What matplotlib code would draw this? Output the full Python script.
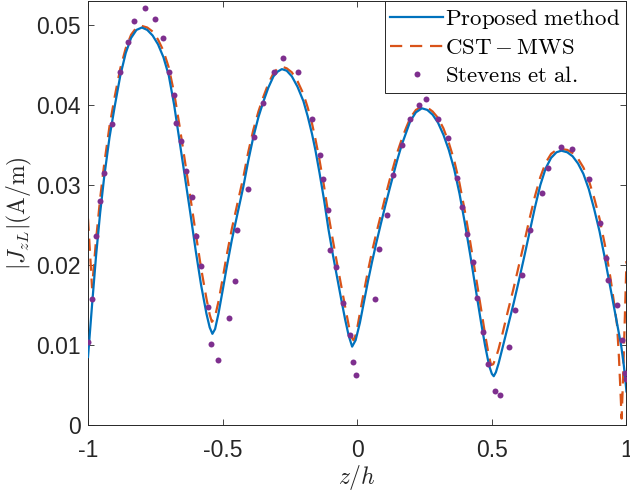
import matplotlib
matplotlib.use('Agg')
import matplotlib.pyplot as plt

# Proposed method (blue solid)
z_prop = [-1.000, -0.985, -0.970, -0.955, -0.940, -0.920, -0.900, -0.880, -0.860, -0.840,
          -0.820, -0.800, -0.780, -0.760, -0.740, -0.720, -0.700, -0.680, -0.660, -0.640,
          -0.620, -0.600, -0.580, -0.560, -0.548, -0.538, -0.528, -0.515, -0.500, -0.485,
          -0.466, -0.445, -0.423, -0.405, -0.386, -0.367, -0.348, -0.330, -0.311, -0.295,
          -0.280, -0.262, -0.243, -0.222, -0.200, -0.184, -0.168, -0.155, -0.140, -0.123,
          -0.107, -0.090, -0.075, -0.060, -0.045, -0.032, -0.019, -0.006, 0.010, 0.025,
          0.040, 0.055, 0.071, 0.088, 0.104, 0.120, 0.135, 0.150, 0.166, 0.182,
          0.197, 0.218, 0.240, 0.260, 0.280, 0.300, 0.320, 0.340, 0.360, 0.380,
          0.400, 0.420, 0.440, 0.460, 0.475, 0.490, 0.500, 0.507, 0.515, 0.525,
          0.540, 0.560, 0.580, 0.600, 0.620, 0.640, 0.660, 0.680, 0.700, 0.720,
          0.740, 0.758, 0.780, 0.800, 0.820, 0.840, 0.860, 0.880, 0.900, 0.920,
          0.940, 0.960, 0.980, 0.990, 1.000]
j_prop = [0.0085, 0.0150, 0.0212, 0.0265, 0.0310, 0.0360, 0.0400, 0.0437, 0.0465, 0.0484,
          0.0494, 0.0497, 0.0494, 0.0487, 0.0476, 0.0460, 0.0437, 0.0400, 0.0355, 0.0310,
          0.0265, 0.0218, 0.0175, 0.0139, 0.0122, 0.0114, 0.0120, 0.0140, 0.0168, 0.0197,
          0.0231, 0.0264, 0.0298, 0.0330, 0.0360, 0.0385, 0.0405, 0.0422, 0.0436, 0.0442,
          0.0445, 0.0443, 0.0436, 0.0423, 0.0405, 0.0386, 0.0364, 0.0343, 0.0315, 0.0281,
          0.0245, 0.0212, 0.0185, 0.0158, 0.0132, 0.0112, 0.0098, 0.0106, 0.0128, 0.0154,
          0.0180, 0.0204, 0.0228, 0.0252, 0.0274, 0.0295, 0.0314, 0.0333, 0.0351, 0.0366,
          0.0380, 0.0391, 0.0396, 0.0394, 0.0388, 0.0378, 0.0363, 0.0344, 0.0320, 0.0289,
          0.0252, 0.0212, 0.0170, 0.0128, 0.0099, 0.0074, 0.0064, 0.0061, 0.0066, 0.0077,
          0.0097, 0.0124, 0.0151, 0.0180, 0.0210, 0.0241, 0.0272, 0.0300, 0.0321, 0.0334,
          0.0341, 0.0343, 0.0341, 0.0336, 0.0327, 0.0314, 0.0295, 0.0270, 0.0242, 0.0208,
          0.0172, 0.0136, 0.0100, 0.0075, 0.0042]

# CST-MWS (orange dashed)
z_cst = [-1.000, -0.992, -0.985, -0.978, -0.970, -0.955, -0.940, -0.920, -0.900, -0.880,
         -0.860, -0.840, -0.820, -0.800, -0.780, -0.760, -0.740, -0.720, -0.700, -0.680,
         -0.660, -0.640, -0.620, -0.600, -0.580, -0.560, -0.548, -0.540, -0.530, -0.515,
         -0.500, -0.485, -0.466, -0.445, -0.423, -0.405, -0.386, -0.367, -0.348, -0.330,
         -0.311, -0.295, -0.280, -0.262, -0.243, -0.222, -0.200, -0.184, -0.168, -0.155,
         -0.140, -0.123, -0.107, -0.090, -0.075, -0.060, -0.045, -0.032, -0.022, -0.014,
         -0.004, 0.010, 0.025, 0.040, 0.055, 0.071, 0.088, 0.104, 0.120, 0.135,
         0.150, 0.166, 0.182, 0.197, 0.218, 0.240, 0.260, 0.280, 0.300, 0.320,
         0.340, 0.360, 0.380, 0.400, 0.420, 0.440, 0.460, 0.475, 0.487, 0.497,
         0.505, 0.515, 0.525, 0.540, 0.560, 0.580, 0.600, 0.620, 0.640, 0.660,
         0.680, 0.700, 0.720, 0.740, 0.758, 0.780, 0.800, 0.820, 0.840, 0.860,
         0.880, 0.900, 0.920, 0.940, 0.955, 0.965, 0.972, 0.978, 0.982, 0.988,
         0.994, 1.000]
j_cst = [0.0258, 0.0212, 0.0172, 0.0200, 0.0232, 0.0283, 0.0326, 0.0374, 0.0412, 0.0446,
         0.0471, 0.0488, 0.0497, 0.0499, 0.0497, 0.0492, 0.0482, 0.0468, 0.0447, 0.0415,
         0.0374, 0.0330, 0.0285, 0.0240, 0.0196, 0.0158, 0.0138, 0.0129, 0.0133, 0.0155,
         0.0183, 0.0212, 0.0245, 0.0277, 0.0310, 0.0341, 0.0369, 0.0392, 0.0411, 0.0427,
         0.0440, 0.0446, 0.0448, 0.0446, 0.0441, 0.0430, 0.0414, 0.0397, 0.0377, 0.0357,
         0.0331, 0.0298, 0.0263, 0.0230, 0.0202, 0.0175, 0.0148, 0.0125, 0.0110, 0.0106,
         0.0114, 0.0140, 0.0167, 0.0193, 0.0217, 0.0240, 0.0263, 0.0285, 0.0306, 0.0324,
         0.0342, 0.0358, 0.0372, 0.0384, 0.0394, 0.0398, 0.0397, 0.0392, 0.0384, 0.0371,
         0.0353, 0.0331, 0.0302, 0.0267, 0.0228, 0.0187, 0.0145, 0.0113, 0.0090, 0.0075,
         0.0076, 0.0084, 0.0095, 0.0115, 0.0143, 0.0170, 0.0199, 0.0228, 0.0258, 0.0286,
         0.0310, 0.0328, 0.0339, 0.0344, 0.0345, 0.0344, 0.0340, 0.0333, 0.0322, 0.0306,
         0.0284, 0.0258, 0.0225, 0.0185, 0.0150, 0.0125, 0.0085, 0.0040, 0.0008, 0.0065,
         0.0135, 0.0205]

# Stevens et al. (purple dots)
z_ste = [-1.000, -0.986, -0.971, -0.954, -0.939, -0.911, -0.880, -0.852, -0.828, -0.787,
         -0.750, -0.721, -0.699, -0.680, -0.675, -0.654, -0.635, -0.613, -0.600, -0.579,
         -0.556, -0.542, -0.519, -0.477, -0.455, -0.445, -0.406, -0.382, -0.349, -0.310,
         -0.274, -0.219, -0.167, -0.140, -0.126, -0.108, -0.103, -0.080, -0.053, -0.028,
         -0.016, -0.006, 0.065, 0.082, 0.109, 0.131, 0.167, 0.195, 0.230, 0.255,
         0.301, 0.337, 0.369, 0.390, 0.409, 0.430, 0.445, 0.467, 0.487, 0.512,
         0.530, 0.564, 0.585, 0.611, 0.641, 0.686, 0.708, 0.755, 0.796, 0.862,
         0.901, 0.925, 0.932, 0.963, 0.983, 0.995, 1.000]
j_ste = [0.0104, 0.0157, 0.0236, 0.0280, 0.0315, 0.0376, 0.0441, 0.0479, 0.0505, 0.0521,
         0.0508, 0.0484, 0.0441, 0.0413, 0.0378, 0.0355, 0.0317, 0.0285, 0.0236, 0.0199,
         0.0148, 0.0101, 0.0081, 0.0134, 0.0180, 0.0244, 0.0295, 0.0360, 0.0403, 0.0441,
         0.0459, 0.0441, 0.0382, 0.0338, 0.0308, 0.0269, 0.0219, 0.0197, 0.0152, 0.0112,
         0.0079, 0.0063, 0.0157, 0.0220, 0.0263, 0.0313, 0.0350, 0.0382, 0.0400, 0.0408,
         0.0383, 0.0359, 0.0309, 0.0273, 0.0239, 0.0204, 0.0159, 0.0116, 0.0076, 0.0043,
         0.0037, 0.0098, 0.0144, 0.0187, 0.0244, 0.0290, 0.0321, 0.0347, 0.0345, 0.0307,
         0.0252, 0.0209, 0.0181, 0.0150, 0.0106, 0.0065, 0.0057]

x_ticks = [-1, -0.5, 0, 0.5, 1]
x_ticklabels = ['-1', '-0.5', '0', '0.5', '1']
y_ticks = [0, 0.01, 0.02, 0.03, 0.04, 0.05]
y_ticklabels = ['0', '0.01', '0.02', '0.03', '0.04', '0.05']

plt.rcParams['mathtext.fontset'] = 'cm'
plt.rcParams['font.family'] = ['Liberation Sans', 'DejaVu Sans']

fig = plt.figure(figsize=(6.3, 4.94), dpi=100)
ax = fig.add_axes([0.1397, 0.1397, 0.8547, 0.858])

ax.plot(z_prop, j_prop, color='#0072BD', lw=1.6, label=r'$\mathrm{Proposed\ method}$', zorder=3)
ax.plot(z_cst, j_cst, color='#D95319', lw=1.6, dashes=(5.5, 3.5), label=r'$\mathrm{CST-MWS}$', zorder=2)
ax.plot(z_ste, j_ste, 'o', color='#7E2F8E', ms=4.3, mec='none', label=r'$\mathrm{Stevens\ et\ al.}$', zorder=4)

ax.set_xlim(-1, 1)
ax.set_ylim(0, 0.053)
ax.set_xticks(x_ticks)
ax.set_xticklabels(x_ticklabels)
ax.set_yticks(y_ticks)
ax.set_yticklabels(y_ticklabels)
ax.tick_params(direction='in', top=True, right=True, length=4, width=0.6,
               color='#262626', labelcolor='#262626', labelsize=16.5)
ax.tick_params(axis='x', pad=10)
ax.tick_params(axis='y', pad=5)
for s in ax.spines.values():
    s.set_color('#262626')
    s.set_linewidth(0.7)

ax.set_xlabel(r'$z/h$', fontsize=17, color='#262626', labelpad=1)
ax.set_ylabel(r'$|J_{zL}|(\mathrm{A/m})$', fontsize=17, color='#262626', labelpad=2)

leg = ax.legend(loc='upper right', borderaxespad=0, fontsize=16.5, handlelength=2.3,
                handletextpad=0.1, numpoints=1, fancybox=False, framealpha=1,
                edgecolor='#262626', borderpad=0.25, labelspacing=0.22)
leg.get_frame().set_linewidth(0.7)

fig.savefig('out.png', dpi=100)
